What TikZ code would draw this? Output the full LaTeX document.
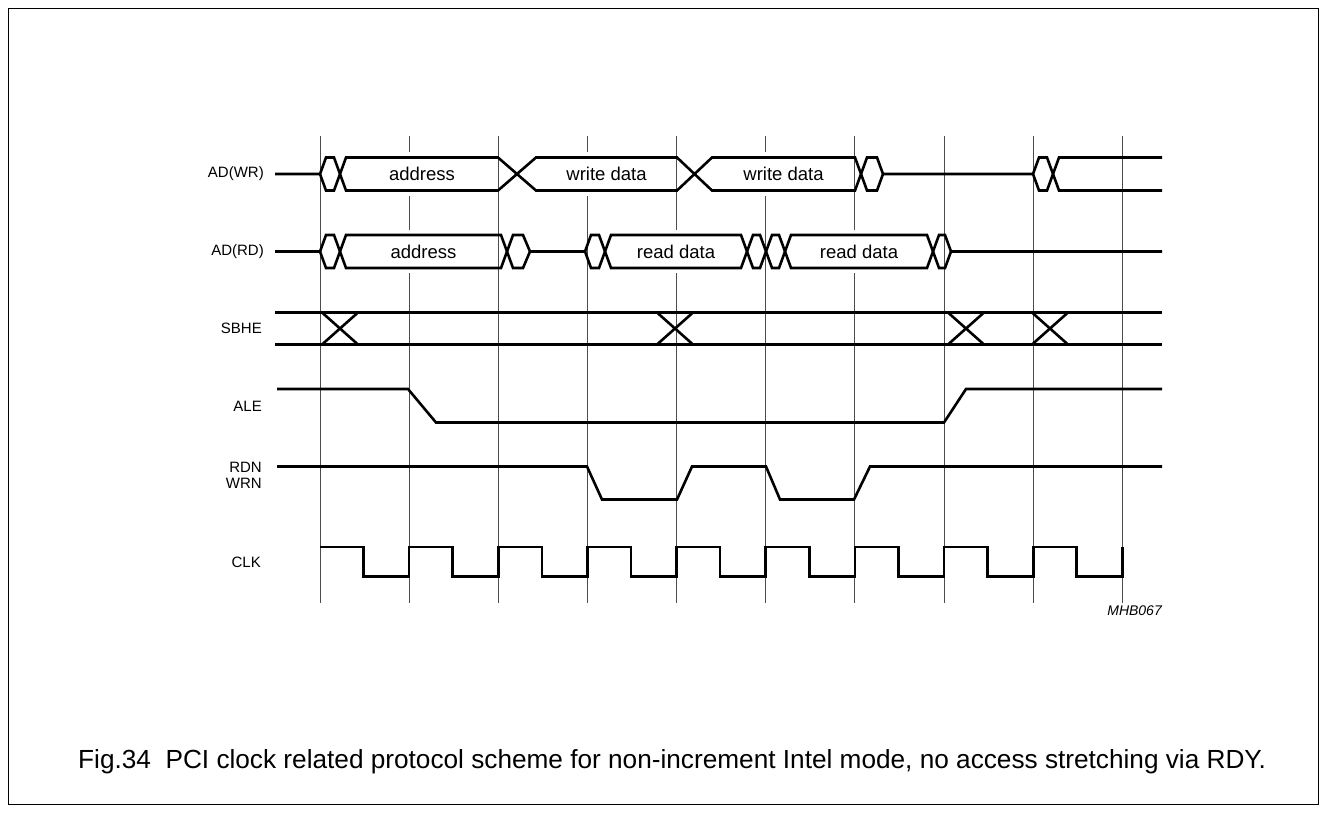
\documentclass[tikz,border=0pt]{standalone}
\usepackage{fontspec}
\setmainfont{Liberation Sans}
\begin{document}
\begin{tikzpicture}[x=1pt,y=-1pt,
	sig/.style={line width=2.6pt},
	grid/.style={line width=1pt,color=black!70},
	lbl/.style={anchor=east,inner sep=0pt,font=\fontsize{15}{16}\selectfont},
	txt/.style={inner sep=0pt,font=\fontsize{18.5}{20}\selectfont}]
		\useasboundingbox (0,0) rectangle (1326,812);
		\draw[line width=1pt] (8,8) rectangle (1318,804);
		% clock grid
		\foreach \i in {0,...,9}
			\draw[grid] ({320+89.15*\i},136) -- ({320+89.15*\i},603);
		% white behind the data boxes
		\fill[white] (349,152) rectangle (494,196);
		\fill[white] (539,152) rectangle (673,196);
		\fill[white] (715,152) rectangle (851,196);
		\fill[white] (349,230) rectangle (497,273);
		\fill[white] (614,230) rectangle (737,273);
		\fill[white] (794,230) rectangle (923,273);
		% AD(WR)
		\draw[sig] (275,174) -- (320,174) -- (326,157.5) -- (334,157.5) -- (346,190.5) -- (498,190.5) -- (536,157.5) -- (677,157.5) -- (712,190.5) -- (855,190.5) -- (867,157.5) -- (877,157.5) -- (883,174) -- (1033,174) -- (1039,190.5) -- (1047,190.5) -- (1059,157.5) -- (1162,157.5);
		\draw[sig] (320,174) -- (326,190.5) -- (334,190.5) -- (346,157.5) -- (498,157.5) -- (536,190.5) -- (677,190.5) -- (712,157.5) -- (855,157.5) -- (867,190.5) -- (877,190.5) -- (883,174);
		\draw[sig] (1033,174) -- (1039,157.5) -- (1047,157.5) -- (1059,190.5) -- (1162,190.5);
		% AD(RD)
		\draw[sig] (275,251.5) -- (320,251.5) -- (326,235) -- (334,235) -- (346,268) -- (501,268) -- (513,235) -- (523,235) -- (530,251.5) -- (585,251.5) -- (591,268) -- (599,268) -- (611,235) -- (741,235) -- (753,268) -- (760,268) -- (772,235) -- (779,235) -- (791,268) -- (927,268) -- (939,235) -- (945,235) -- (951,251.5) -- (1162,251.5);
		\draw[sig] (320,251.5) -- (326,268) -- (334,268) -- (346,235) -- (501,235) -- (513,268) -- (523,268) -- (530,251.5);
		\draw[sig] (585,251.5) -- (591,235) -- (599,235) -- (611,268) -- (741,268) -- (753,235) -- (760,235) -- (772,268) -- (779,268) -- (791,235) -- (927,235) -- (939,268) -- (945,268) -- (951,251.5);
		% SBHE
		\draw[sig] (275,312.5) -- (1162,312.5);
		\draw[sig] (275,344.5) -- (1162,344.5);
		\foreach \x in {322,657,948,1032}
			\draw[sig] (\x,312.5) -- ({\x+36},344.5) (\x,344.5) -- ({\x+36},312.5);
		% ALE
		\draw[sig] (277,389) -- (408,389) -- (436,422.5) -- (944,422.5) -- (966,389) -- (1162,389);
		% RDN / WRN
		\draw[sig] (277,466.5) -- (587,466.5) -- (602,499.5) -- (677,499.5) -- (692,466.5) -- (766,466.5) -- (780,499.5) -- (854,499.5) -- (870,466.5) -- (1162,466.5);
		% CLK
		\draw[sig] (320,547) \foreach \i in {0,...,8}{ -- ++(43.5,0) -- ++(0,29.5) -- ++(45.65,0) -- ++(0,-29.5)};
		% texts in the boxes
		\node[txt] (adrwr) at (422,174) {address};
		\node[txt] (wd1) at (606.5,174) {write data};
		\node[txt] (wd2) at (783.5,174) {write data};
		\node[txt] (adrrd) at (423.5,251.5) {address};
		\node[txt] (rd1) at (676,251.5) {read data};
		\node[txt] (rd2) at (859,251.5) {read data};
		% signal names
		\node[lbl] (wr) at (264,174) {AD(WR)};
		\node[lbl] (rd) at (264,251.5) {AD(RD)};
		\node[lbl] (sbhe) at (262,328.5) {SBHE};
		\node[lbl] (ale) at (262,406) {ALE};
		\node[lbl,align=right] (rdn) at (262,475) {RDN\\WRN};
		\node[lbl] (clk) at (261,562) {CLK};
		\node[anchor=north east,inner sep=0pt,font=\fontsize{14}{14}\selectfont\itshape] (code) at (1162,606) {MHB067};
		\node[anchor=west,inner sep=0pt,font=\fontsize{26.2}{26}\selectfont] (cap) at (78,762) {Fig.34\ \ PCI clock related protocol scheme for non-increment Intel mode, no access stretching via RDY.};
\end{tikzpicture}
\end{document}
